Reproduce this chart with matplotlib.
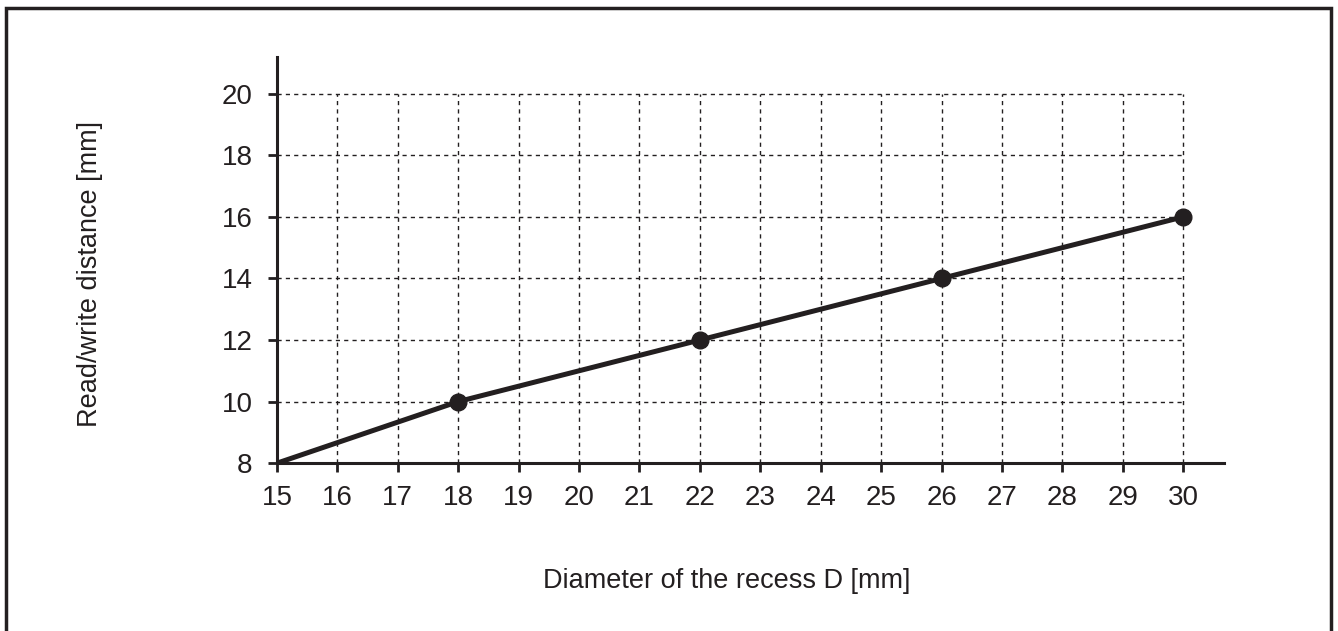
import matplotlib.pyplot as plt
from matplotlib.patches import Rectangle

plt.rcParams['font.family'] = ['Liberation Sans', 'DejaVu Sans']

# data
diameter = [15, 18, 22, 26, 30]
distance = [8, 10, 12, 14, 16]
x_ticks = list(range(15, 31))
y_ticks = [8, 10, 12, 14, 16, 18, 20]

fig = plt.figure(figsize=(13.38, 6.31), dpi=100)
ax = fig.add_axes([0.207, 0.266, 0.708, 0.644])

# dashed grid only inside the data range
ax.vlines(x_ticks[1:], y_ticks[0], y_ticks[-1], colors='#231f20',
          linestyles=(0, (3, 3)), linewidth=1.0, zorder=1)
ax.hlines(y_ticks[1:], x_ticks[0], x_ticks[-1], colors='#231f20',
          linestyles=(0, (3, 3)), linewidth=1.0, zorder=1)

ax.plot(diameter, distance, color='#231f20', linewidth=3.6,
        marker='o', markersize=12, markevery=[1, 2, 3, 4], zorder=3,
        solid_capstyle='butt')

ax.set_xlim(15, 30.68)
ax.set_ylim(8, 21.2)
ax.set_xticks(x_ticks)
ax.set_yticks(y_ticks)
for s in ['top', 'right']:
    ax.spines[s].set_visible(False)
for s in ['left', 'bottom']:
    ax.spines[s].set_linewidth(2.2)
    ax.spines[s].set_color('#231f20')
ax.tick_params(axis='both', labelsize=20, width=2, length=6.5,
               color='#231f20', labelcolor='#231f20')
ax.tick_params(axis='x', pad=9)
ax.tick_params(axis='y', pad=11)

fig.text(0.543, 0.08, 'Diameter of the recess D [mm]', ha='center',
         va='center', fontsize=19.5, color='#231f20')
fig.text(0.067, 0.565, 'Read/write distance [mm]', ha='center',
         va='center', rotation=90, fontsize=19.5, color='#231f20')

# outer frame
fig.patches.append(Rectangle((0.0045, -0.05), 0.9905, 1.037,
                             transform=fig.transFigure, fill=False,
                             edgecolor='#231f20', linewidth=2.5))

fig.savefig('out.png', dpi=100)
